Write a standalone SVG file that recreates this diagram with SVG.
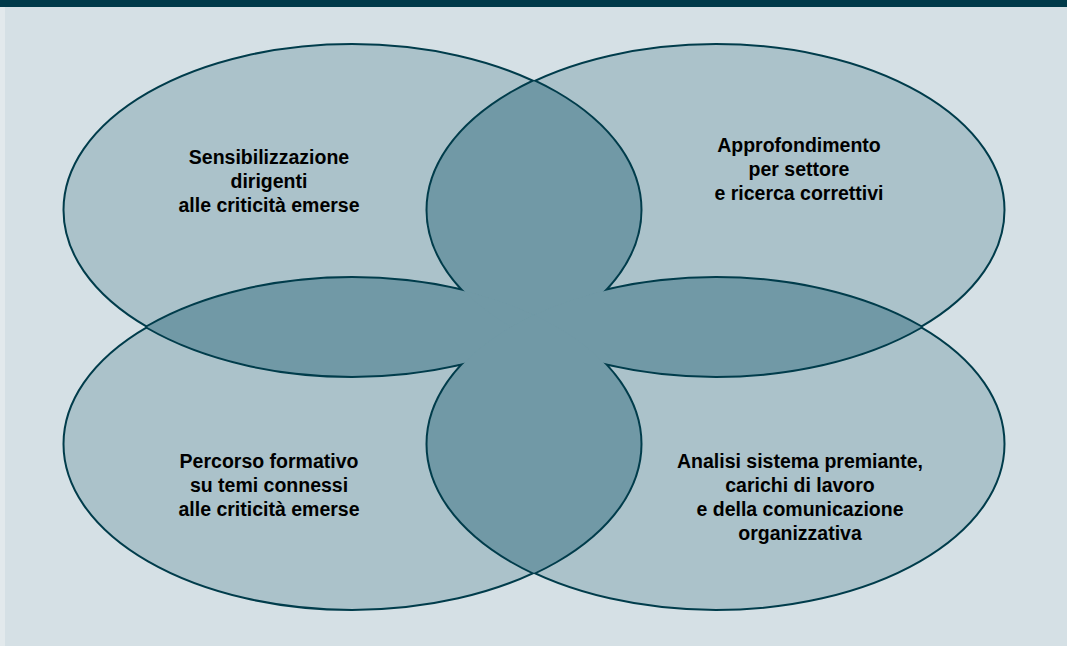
<svg xmlns="http://www.w3.org/2000/svg" xmlns:xlink="http://www.w3.org/1999/xlink" width="1067" height="646" viewBox="0 0 1067 646">
  <style>
    .bg { fill: #d5e0e5; }
    .bar { fill: #003a4a; }
    .lobe { fill: #abc2ca; stroke: #003c4b; stroke-width: 2; }
    .edge { fill: none; stroke: #003c4b; stroke-width: 4; }
    .dark { fill: #7199a6; stroke: none; }
    .lbl { font-family: "Liberation Sans", Arial, sans-serif; font-weight: bold; font-size: 19.5px; fill: #000; text-anchor: middle; }
  </style>
  <defs>
    <ellipse id="e1" cx="352" cy="210" rx="288.5" ry="166"/>
    <ellipse id="e2" cx="716" cy="210" rx="288.5" ry="166"/>
    <ellipse id="e3" cx="352" cy="444" rx="288.5" ry="166"/>
    <ellipse id="e4" cx="716" cy="444" rx="288.5" ry="166"/>
    <clipPath id="c1"><ellipse cx="352" cy="210" rx="288.5" ry="166"/></clipPath>
    <clipPath id="c2"><ellipse cx="716" cy="210" rx="288.5" ry="166"/></clipPath>
    <clipPath id="c3"><ellipse cx="352" cy="444" rx="288.5" ry="166"/></clipPath>
    <clipPath id="c4"><ellipse cx="716" cy="444" rx="288.5" ry="166"/></clipPath>
  </defs>

  <rect class="bg" x="0" y="0" width="1067" height="646"/>
  <rect x="0" y="7" width="5" height="639" fill="#e2e9ec"/>
  <rect class="bar" x="0" y="0" width="1067" height="7"/>

  <g id="node-sensibilizzazione">
    <use xlink:href="#e1" href="#e1" class="lobe"/>
    <text class="lbl" x="269" y="164">Sensibilizzazione</text>
    <text class="lbl" x="269" y="188">dirigenti</text>
    <text class="lbl" x="269" y="212">alle criticità emerse</text>
  </g>
  <g id="node-approfondimento">
    <use xlink:href="#e2" href="#e2" class="lobe"/>
    <text class="lbl" x="799" y="152">Approfondimento</text>
    <text class="lbl" x="799" y="176">per settore</text>
    <text class="lbl" x="799" y="200">e ricerca correttivi</text>
  </g>
  <g id="node-percorso">
    <use xlink:href="#e3" href="#e3" class="lobe"/>
    <text class="lbl" x="269" y="468">Percorso formativo</text>
    <text class="lbl" x="269" y="492">su temi connessi</text>
    <text class="lbl" x="269" y="516">alle criticità emerse</text>
  </g>
  <g id="node-analisi">
    <use xlink:href="#e4" href="#e4" class="lobe"/>
    <text class="lbl" x="800" y="468">Analisi sistema premiante,</text>
    <text class="lbl" x="800" y="492">carichi di lavoro</text>
    <text class="lbl" x="800" y="516">e della comunicazione</text>
    <text class="lbl" x="800" y="540">organizzativa</text>
  </g>

  <g id="overlaps">
    <g id="overlap-edges">
      <use href="#e1" xlink:href="#e1" class="edge" clip-path="url(#c2)"/>
      <use href="#e1" xlink:href="#e1" class="edge" clip-path="url(#c3)"/>
      <use href="#e1" xlink:href="#e1" class="edge" clip-path="url(#c4)"/>
      <use href="#e2" xlink:href="#e2" class="edge" clip-path="url(#c1)"/>
      <use href="#e2" xlink:href="#e2" class="edge" clip-path="url(#c3)"/>
      <use href="#e2" xlink:href="#e2" class="edge" clip-path="url(#c4)"/>
      <use href="#e3" xlink:href="#e3" class="edge" clip-path="url(#c1)"/>
      <use href="#e3" xlink:href="#e3" class="edge" clip-path="url(#c2)"/>
      <use href="#e3" xlink:href="#e3" class="edge" clip-path="url(#c4)"/>
      <use href="#e4" xlink:href="#e4" class="edge" clip-path="url(#c1)"/>
      <use href="#e4" xlink:href="#e4" class="edge" clip-path="url(#c2)"/>
      <use href="#e4" xlink:href="#e4" class="edge" clip-path="url(#c3)"/>
    </g>
    <g id="overlap-fills">
      <use href="#e1" xlink:href="#e1" class="dark" clip-path="url(#c2)"/>
      <use href="#e1" xlink:href="#e1" class="dark" clip-path="url(#c3)"/>
      <use href="#e1" xlink:href="#e1" class="dark" clip-path="url(#c4)"/>
      <use href="#e2" xlink:href="#e2" class="dark" clip-path="url(#c3)"/>
      <use href="#e2" xlink:href="#e2" class="dark" clip-path="url(#c4)"/>
      <use href="#e3" xlink:href="#e3" class="dark" clip-path="url(#c4)"/>
    </g>
  </g>
</svg>
